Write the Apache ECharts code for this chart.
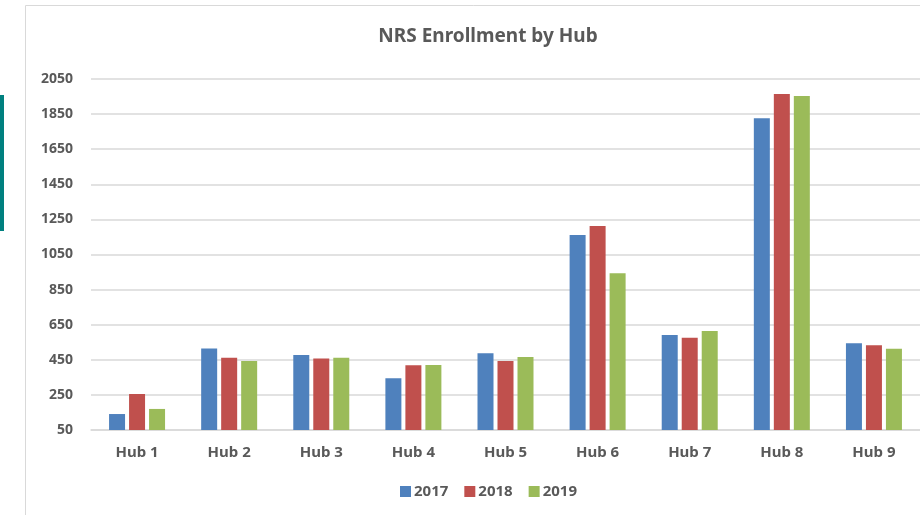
<!DOCTYPE html>
<html><head><meta charset="utf-8">
<script src="https://cdn.jsdelivr.net/npm/echarts@6/dist/echarts.min.js"></script>
<style>html,body{margin:0;padding:0;background:#fff}#c{width:920px;height:515px}</style>
</head><body><div id="c"></div>
<script>
const categories = ['Hub 1','Hub 2','Hub 3','Hub 4','Hub 5','Hub 6','Hub 7','Hub 8','Hub 9'];
const s2017 = [141, 515, 477, 345, 487, 1161, 591, 1826, 544];
const s2018 = [255, 462, 458, 419, 443, 1212, 576, 1965, 533];
const s2019 = [170, 443, 462, 420, 466, 943, 614, 1953, 513];
const yTicks = [50, 250, 450, 650, 850, 1050, 1250, 1450, 1650, 1850, 2050];

const chart = echarts.init(document.getElementById('c'));
const txt = '#595959';
const font = '"Noto Sans", sans-serif';
function bar(name, data, color){
  return {name, type:'bar', data, barWidth:16, barGap:'25%',
    itemStyle:{color}};
}
chart.setOption({
  animation:false,
  graphic:[
    {type:'rect', shape:{x:25.5,y:5.5,width:920,height:520}, style:{fill:'none',stroke:'#d9d9d9',lineWidth:1}},
    {type:'rect', shape:{x:0,y:95,width:4,height:136}, style:{fill:'#00807f'}}
  ],
  title:{text:'NRS Enrollment by Hub', left:483, top:22, textAlign:'center',
    textStyle:{color:txt, fontSize:19, fontWeight:'bold', fontFamily:font}},
  legend:{bottom:11, left:395, itemWidth:11, itemHeight:11, itemGap:16, icon:'rect',
    textStyle:{color:txt, fontSize:15, fontWeight:'bold', fontFamily:font, padding:[0,0,0,-2]}},
  grid:{left:91, top:79, width:833, height:351, containLabel:false},
  xAxis:{type:'category', data:categories,
    axisLine:{lineStyle:{color:'#d9d9d9', width:1.5}}, axisTick:{show:false},
    axisLabel:{color:txt, fontSize:15, fontWeight:'bold', fontFamily:font, margin:15}},
  yAxis:{type:'value', min:yTicks[0], max:yTicks[yTicks.length-1], interval:200,
    axisLine:{show:false}, axisTick:{show:false},
    splitLine:{lineStyle:{color:'#d9d9d9', width:1.5}},
    axisLabel:{color:txt, fontSize:14, fontWeight:'bold', fontFamily:font, margin:18,
      formatter: v => String(v)}},
  series:[bar('2017', s2017, '#4f81bd'), bar('2018', s2018, '#c0504d'), bar('2019', s2019, '#9bbb59')]
});
</script></body></html>
